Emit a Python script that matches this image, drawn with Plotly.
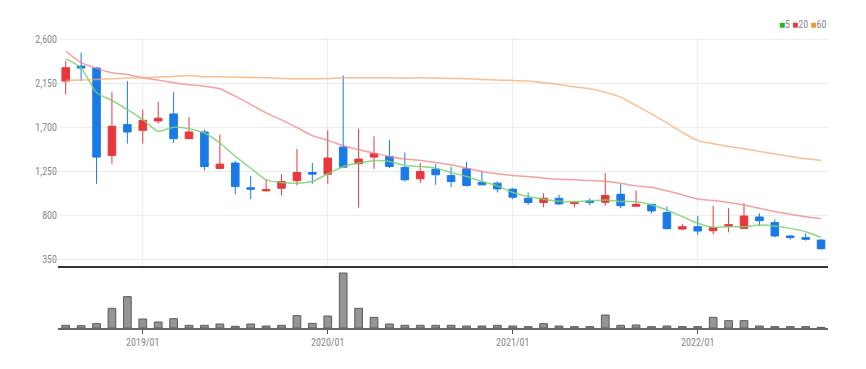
import plotly.graph_objects as go

months = ["2018/08","2018/09","2018/10","2018/11","2018/12",
          "2019/01","2019/02","2019/03","2019/04","2019/05","2019/06","2019/07","2019/08","2019/09","2019/10","2019/11","2019/12",
          "2020/01","2020/02","2020/03","2020/04","2020/05","2020/06","2020/07","2020/08","2020/09","2020/10","2020/11","2020/12",
          "2021/01","2021/02","2021/03","2021/04","2021/05","2021/06","2021/07","2021/08","2021/09","2021/10","2021/11","2021/12",
          "2022/01","2022/02","2022/03","2022/04","2022/05","2022/06","2022/07","2022/08","2022/09"]

open_ = [2178,2332,2312,1416,1731,1673,1769,1841,1587,1656,1282,1337,1083,1052,1079,1155,1240,
         1223,1501,1330,1398,1405,1292,1175,1275,1210,1278,1138,1131,
         1069,976,932,976,921,949,935,1017,894,914,829,660,
         684,643,688,667,784,726,589,572,547]
high = [2384,2470,2320,2064,2178,1886,1965,2064,1810,1680,1628,1361,1206,1172,1223,1481,1337,
        1673,2236,1690,1611,1577,1446,1337,1326,1302,1350,1251,1148,
        1079,1035,1028,1011,945,976,1234,1120,1055,918,890,712,
        794,901,873,925,822,760,599,616,555]
low = [2040,2178,1124,1330,1536,1536,1742,1543,1580,1261,1275,1017,966,1045,1004,1107,1124,
       1124,1295,880,1278,1285,1148,1131,1114,1090,1096,1107,1035,
       966,907,883,911,883,904,900,873,890,822,657,650,
       599,609,626,667,691,575,551,541,451]
close = [2315,2312,1398,1714,1656,1776,1797,1587,1656,1302,1326,1096,1069,1066,1148,1240,1223,
         1388,1295,1378,1433,1302,1165,1251,1217,1148,1107,1114,1072,
         987,932,976,918,935,932,1004,900,914,846,664,684,
         640,674,705,794,746,589,572,555,458]

ma5 = [2408,2315,2058,1979,1886,1783,1663,1704,1690,1645,1543,1405,1285,1165,1138,1131,1148,
       1227,1302,1337,1361,1354,1313,1302,1285,1240,1199,1148,1103,
       1035,993,966,945,940,949,959,942,942,907,856,787,
       719,678,684,684,702,691,667,633,575]
ma20 = [2487,2367,2308,2264,2246,2212,2188,2161,2140,2126,2099,2023,1937,1852,1780,1700,1618,
        1570,1515,1474,1440,1405,1378,1364,1343,1319,1285,1251,1227,
        1210,1199,1182,1172,1165,1158,1148,1131,1103,1090,1052,1011,
        969,952,932,907,873,839,812,787,767]
ma60 = [2185,2188,2195,2202,2209,2212,2219,2226,2236,2222,2222,2219,2216,2212,2205,2202,2202,
        2205,2212,2212,2212,2212,2209,2212,2209,2205,2202,2195,2188,
        2185,2178,2161,2143,2119,2099,2064,2013,1927,1841,1749,1652,
        1567,1536,1508,1484,1457,1430,1405,1381,1364]
volume = [8,7,13,59,94,27,18,28,8,8,12,5,12,6,8,37,14,
          36,165,59,32,12,8,8,8,8,6,6,8,
          6,4,13,6,4,4,39,8,9,4,6,4,
          4,32,22,22,6,4,4,4,2]

year_ticks = ["2019/01","2020/01","2021/01","2022/01"]
ma_names = ["5","20","60"]
ma_colors = ["rgba(120,210,110,0.85)","rgba(240,130,130,0.75)","rgba(245,170,110,0.75)"]
legend_colors = ["#22b422","#e8383d","#f0962e"]

UP = "#e8383d"
DOWN = "#1a7ae6"
FONT = "Liberation Sans Narrow, Roboto Condensed, Arial Narrow, sans-serif"

fig = go.Figure()

for name, vals, col in zip(ma_names, [ma5, ma20, ma60], ma_colors):
    fig.add_trace(go.Scatter(x=months, y=vals, mode="lines", name=name,
                             line=dict(color=col, width=1.5, shape="spline", smoothing=0.6),
                             xaxis="x", yaxis="y", hoverinfo="skip"))

fig.add_trace(go.Candlestick(x=months, open=open_, high=high, low=low, close=close,
                             increasing=dict(line=dict(color=UP, width=1), fillcolor=UP),
                             decreasing=dict(line=dict(color=DOWN, width=1), fillcolor=DOWN),
                             whiskerwidth=0, xaxis="x", yaxis="y", name="price"))

fig.add_trace(go.Bar(x=months, y=volume, marker=dict(color="#959595", line=dict(color="#5a5a5a", width=1)),
                     width=0.5, xaxis="x2", yaxis="y2", name="vol"))

legend_text = "&nbsp;".join(
    f"<span style='color:{c}'>■</span>{n}" for n, c in zip(ma_names, legend_colors))

fig.update_layout(
    width=866, height=369,
    margin=dict(l=58, r=38, t=38, b=41),
    paper_bgcolor="white", plot_bgcolor="white",
    showlegend=False,
    font=dict(family=FONT, size=10, color="#888"),
    xaxis=dict(type="category", range=[-0.5, 49.45], domain=[0, 1], anchor="y",
               tickvals=year_ticks, showticklabels=False, showgrid=True,
               gridcolor="#ececec", gridwidth=1, showline=True, linecolor="#333",
               linewidth=2, rangeslider=dict(visible=False), ticks="", zeroline=False),
    yaxis=dict(domain=[0.2138, 1], range=[281, 2620], tickvals=[350, 800, 1250, 1700, 2150, 2600],
               tickformat=",", showgrid=True, gridcolor="#ececec", gridwidth=1,
               zeroline=False, showline=False, ticks="", tickfont=dict(size=10, color="#888")),
    xaxis2=dict(type="category", range=[-0.5, 49.45], domain=[0, 1], anchor="y2",
                tickvals=year_ticks, ticktext=year_ticks, showgrid=False, showline=True,
                linecolor="#666", linewidth=2, ticks="outside", ticklen=4, tickcolor="#555",
                tickfont=dict(size=10, color="#888"), zeroline=False),
    yaxis2=dict(domain=[0, 0.193], range=[0, 168], showticklabels=False, showgrid=False,
                zeroline=False, showline=False),
    annotations=[dict(xref="paper", yref="paper", x=1, y=1, xanchor="right", yanchor="bottom",
                      yshift=6, text=legend_text, showarrow=False,
                      font=dict(family=FONT, size=10, color="#888"))],
)

fig.write_html("out.html")
